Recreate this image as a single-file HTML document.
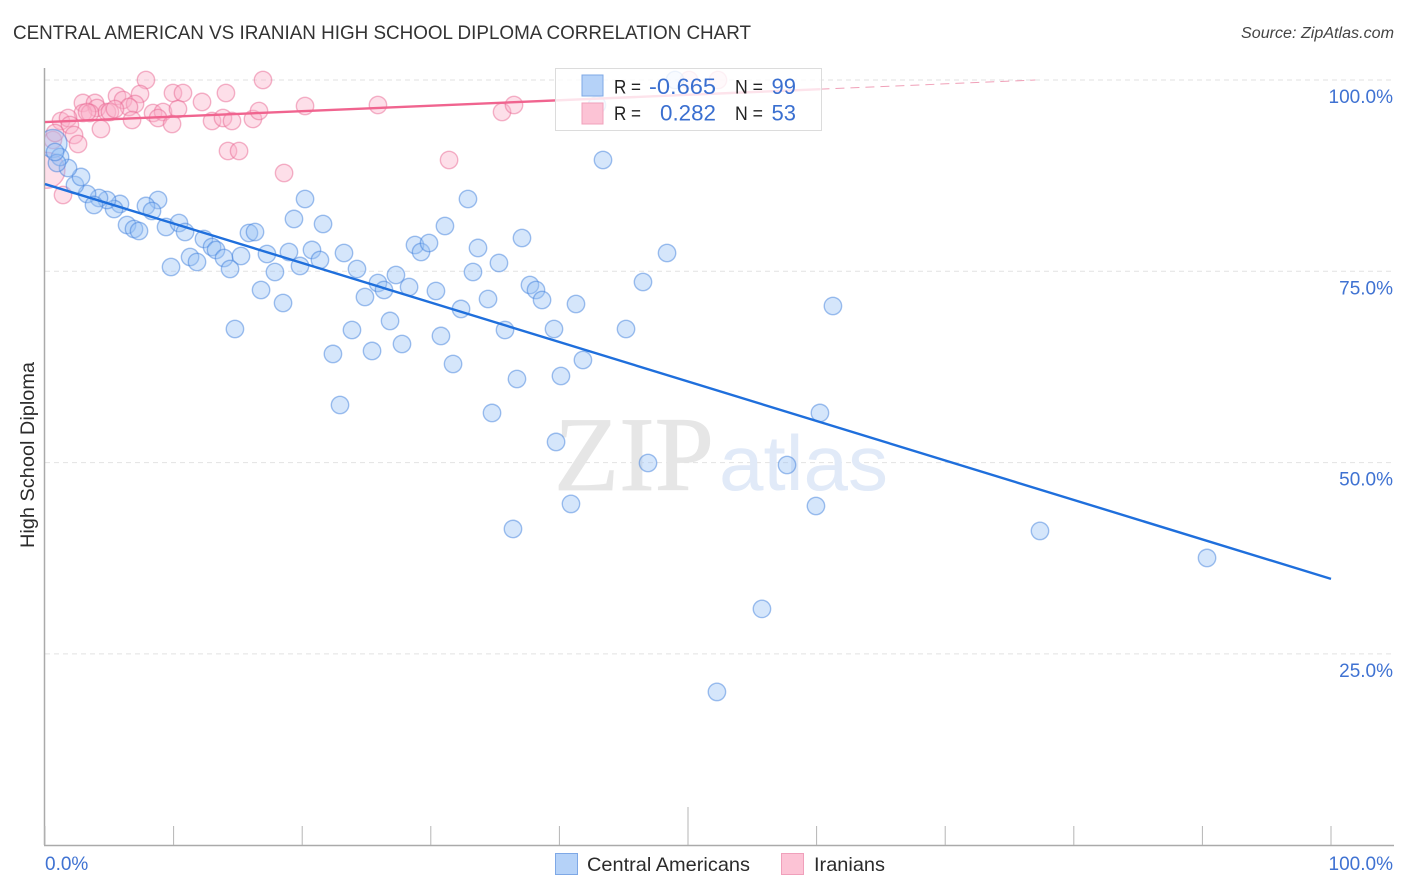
<!DOCTYPE html>
<html lang="en">
<head>
<meta charset="utf-8">
<title>Central American vs Iranian High School Diploma Correlation Chart</title>
<style>
html,body{margin:0;padding:0;background:#fff;width:1406px;height:892px;overflow:hidden}
svg{display:block;font-family:"Liberation Sans",sans-serif}
</style>
</head>
<body>
<svg id="chart" width="1406" height="892" viewBox="0 0 1406 892" xmlns="http://www.w3.org/2000/svg">
<defs><clipPath id="plot-clip"><rect x="45" y="60" width="1349" height="785"/></clipPath></defs>
<rect x="0" y="0" width="1406" height="892" fill="#fff"/>
<text x="13" y="39" font-size="19" fill="#333" textLength="738" lengthAdjust="spacingAndGlyphs">CENTRAL AMERICAN VS IRANIAN HIGH SCHOOL DIPLOMA CORRELATION CHART</text>
<text x="1241" y="38" font-size="15.5" font-style="italic" fill="#444" textLength="153" lengthAdjust="spacingAndGlyphs">Source: ZipAtlas.com</text>
<g id="grid"></g>
<g>
<text x="554" y="490" style="font-family:'Liberation Serif',serif" font-size="106" fill="#e6e6e6" stroke="#e6e6e6" stroke-width="0.8" textLength="160" lengthAdjust="spacingAndGlyphs">ZIP</text>
<text x="719" y="490" style="font-family:'Liberation Sans',sans-serif" font-size="78" fill="#e1eaf8" textLength="169" lengthAdjust="spacingAndGlyphs">atlas</text>
</g>
<g id="axes"></g>
<g id="points" clip-path="url(#plot-clip)"></g>
<g id="lines"></g>
<text transform="translate(34,455) rotate(-90)" font-size="19" fill="#2b2b2b" text-anchor="middle" textLength="186" lengthAdjust="spacingAndGlyphs">High School Diploma</text>
<g id="yticks"></g>
<g id="xticks"></g>
<g>
<rect x="555.5" y="68.5" width="266" height="62" fill="#fff" fill-opacity="0.82" stroke="#dcdcdc"/>
<rect x="582" y="75" width="21" height="21" fill="#b5d2f8" stroke="#7ea8e6"/>
<rect x="582" y="103" width="21" height="21" fill="#fcc3d5" stroke="#f0a0bb"/>
<text x="614" y="93.5" font-size="19.5" fill="#222" textLength="27" lengthAdjust="spacingAndGlyphs">R =</text>
<text x="649" y="94" font-size="22" fill="#3a6fd0" textLength="67" lengthAdjust="spacingAndGlyphs">-0.665</text>
<text x="735" y="93.5" font-size="19.5" fill="#222" textLength="28" lengthAdjust="spacingAndGlyphs">N =</text>
<text x="796" y="94" font-size="22" fill="#3a6fd0" text-anchor="end">99</text>
<text x="614" y="120" font-size="19.5" fill="#222" textLength="27" lengthAdjust="spacingAndGlyphs">R =</text>
<text x="660" y="120.5" font-size="22" fill="#3a6fd0" textLength="56" lengthAdjust="spacingAndGlyphs">0.282</text>
<text x="735" y="120" font-size="19.5" fill="#222" textLength="28" lengthAdjust="spacingAndGlyphs">N =</text>
<text x="796" y="120.5" font-size="22" fill="#3a6fd0" text-anchor="end">53</text>
</g>
<g>
<rect x="555.5" y="853.5" width="22" height="21" fill="#b5d2f8" stroke="#7ea8e6"/>
<text x="587" y="871" font-size="19.5" fill="#2b2b2b" textLength="163" lengthAdjust="spacingAndGlyphs">Central Americans</text>
<rect x="781.5" y="853.5" width="22" height="21" fill="#fcc3d5" stroke="#f0a0bb"/>
<text x="814" y="871" font-size="19.5" fill="#2b2b2b" textLength="71" lengthAdjust="spacingAndGlyphs">Iranians</text>
</g>
</svg>
<script>
const yTickValues = [25, 50, 75, 100];
const yTickLabels = ["25.0%", "50.0%", "75.0%", "100.0%"];
const xTickValues = [0, 10, 20, 30, 40, 50, 60, 70, 80, 90, 100];
const xTickLabels = ["0.0%", "100.0%"];

const centralX = [43.39,20.22,32.89,8.79,7.85,8.32,5.83,5.37,4.82,4.2,3.27,3.81,2.33,2.8,1.79,1.17,0.93,0.78,6.38,6.92,7.31,9.41,10.42,10.89,19.36,21.62,31.1,15.86,16.33,12.36,12.99,13.3,11.28,11.82,13.92,15.24,9.8,14.39,17.26,18.97,20.76,23.25,21.38,19.83,17.88,24.26,16.8,18.51,14.77,24.88,25.89,26.36,27.29,28.31,28.77,29.24,29.86,33.67,35.3,37.09,33.28,30.4,32.35,34.45,35.77,37.71,38.18,38.65,41.29,46.5,48.37,45.18,39.58,61.27,23.87,26.83,22.39,25.43,27.76,30.79,31.73,41.83,40.12,36.7,22.94,34.76,60.26,39.74,46.89,57.7,40.9,59.95,36.39,77.37,90.36,55.75,52.25,48.99,42.92];
const centralY = [89.55,84.45,84.45,84.32,83.54,82.88,83.8,83.14,84.32,84.58,85.1,83.67,86.28,87.33,88.5,89.94,89.15,90.59,81.05,80.53,80.27,80.79,81.31,80.14,81.84,81.18,80.92,80.01,80.14,79.22,78.18,77.79,76.87,76.22,76.74,77,75.56,75.3,77.26,77.52,77.79,77.39,76.48,75.7,74.91,75.3,72.56,70.86,67.46,71.64,73.47,72.56,74.52,72.95,78.44,77.52,78.7,78.05,76.09,79.35,74.91,72.43,70.08,71.38,67.33,73.21,72.56,71.25,70.73,73.6,77.39,67.46,67.46,70.47,67.33,68.51,64.2,64.59,65.5,66.55,62.89,63.41,61.32,60.93,57.53,56.49,56.49,52.7,49.95,49.69,44.6,44.33,41.33,41.07,37.54,30.88,20.03,100,96.73];
const iranianX = [7.85,16.95,7.39,9.95,10.73,14.07,12.21,5.6,6.07,7.0,6.53,2.95,3.89,4.04,2.95,3.5,3.27,4.82,5.05,5.44,8.4,9.18,10.34,8.79,9.88,6.77,4.35,12.99,13.84,14.54,16.17,16.64,20.22,1.24,1.79,1.94,2.26,2.57,14.23,15.09,18.59,1.4,0.62,0.78,25.89,31.42,35.54,36.47,50.08,52.33];
const iranianY = [100,100,98.17,98.3,98.3,98.3,97.13,97.91,97.39,96.86,96.47,97,97,96.34,95.69,95.69,95.82,95.82,95.82,96.21,95.69,95.82,96.21,95.03,94.25,94.77,93.6,94.64,95.03,94.64,94.9,95.95,96.6,94.64,95.03,94.12,92.81,91.64,90.72,90.72,87.85,84.97,92.16,93.07,96.73,89.55,95.82,96.73,100,100];
const clusterCentralX = [0.62];
const clusterCentralY = [91.7];
const clusterIranianX = [0.15];
const clusterIranianY = [88.2];
const centralTrendX = [0, 100];
const centralTrendY = [86.4, 34.8];
const iranianTrendSolidX = [0, 60.3];
const iranianTrendSolidY = [94.5, 98.8];
const iranianTrendDashX = [60.3, 77];
const iranianTrendDashY = [98.8, 100];

const SVGNS = 'http://www.w3.org/2000/svg';
function xScale(v) { return 45 + v * 12.86; }
function yScale(v) { return 845.2 - v * 7.652; }
function make(tag, parent, attrs) {
  const el = document.createElementNS(SVGNS, tag);
  for (const k in attrs) el.setAttribute(k, attrs[k]);
  document.getElementById(parent).appendChild(el);
  return el;
}

yTickValues.forEach(function (v, i) {
  const line = make('line', 'grid', {x1: 45, x2: 1394, y1: yScale(v), y2: yScale(v), stroke: '#e2e2e2', 'stroke-width': 1, 'stroke-dasharray': '5 4'});
  
  
  const label = make('text', 'yticks', {x: 1393, y: yScale(v) + 23, 'font-size': 19, fill: '#3f72d2', 'text-anchor': 'end'});
  label.textContent = yTickLabels[i];
  
  
});

const yAxis = make('line', 'axes', {x1: 44.5, x2: 44.5, y1: 68, y2: 845, stroke: '#aaa', 'stroke-width': 1.5});


const xAxis = make('line', 'axes', {x1: 44, x2: 1394, y1: 845.5, y2: 845.5, stroke: '#aaa', 'stroke-width': 1.5});


xTickValues.forEach(function (v) {
  const tick = make('line', 'axes', {x1: xScale(v), x2: xScale(v), y1: v === 50 ? 807 : 826, y2: 845, stroke: '#b5b5b5', 'stroke-width': 1});
  
  
});

const xLabelLeft = make('text', 'xticks', {x: 45, y: 870, 'font-size': 19, fill: '#3f72d2'});
xLabelLeft.textContent = xTickLabels[0];


const xLabelRight = make('text', 'xticks', {x: 1393, y: 870, 'font-size': 19, fill: '#3f72d2', 'text-anchor': 'end'});
xLabelRight.textContent = xTickLabels[1];



const blueStyle = {fill: 'rgba(150,192,245,0.4)', stroke: 'rgba(60,125,220,0.48)', 'stroke-width': 1.4};
const pinkStyle = {fill: 'rgba(250,175,200,0.4)', stroke: 'rgba(232,100,145,0.48)', 'stroke-width': 1.4};
function dot(parent, x, y, r, style) {
  return make('circle', parent, Object.assign({cx: xScale(x), cy: yScale(y), r: r}, style));
}
clusterIranianX.forEach(function (x, i) {
  const c = dot('points', x, clusterIranianY[i], 18, pinkStyle);
  
  
});
iranianX.forEach(function (x, i) {
  const c = dot('points', x, iranianY[i], 8.7, pinkStyle);
  
  
});
clusterCentralX.forEach(function (x, i) {
  const c = dot('points', x, clusterCentralY[i], 14, blueStyle);
  
  
});
centralX.forEach(function (x, i) {
  const c = dot('points', x, centralY[i], 8.7, blueStyle);
  
  
});

const blueTrend = make('line', 'lines', {x1: xScale(centralTrendX[0]), y1: yScale(centralTrendY[0]), x2: xScale(centralTrendX[1]), y2: yScale(centralTrendY[1]), stroke: '#1f6fdc', 'stroke-width': 2.4});


const pinkTrend = make('line', 'lines', {x1: xScale(iranianTrendSolidX[0]), y1: yScale(iranianTrendSolidY[0]), x2: xScale(iranianTrendSolidX[1]), y2: yScale(iranianTrendSolidY[1]), stroke: '#f0648f', 'stroke-width': 2.4});


const pinkDash = make('line', 'lines', {x1: xScale(iranianTrendDashX[0]), y1: yScale(iranianTrendDashY[0]), x2: xScale(iranianTrendDashX[1]), y2: yScale(iranianTrendDashY[1]), stroke: '#f0a0b8', 'stroke-width': 1, 'stroke-dasharray': '9 6'});


</script>
</body>
</html>
